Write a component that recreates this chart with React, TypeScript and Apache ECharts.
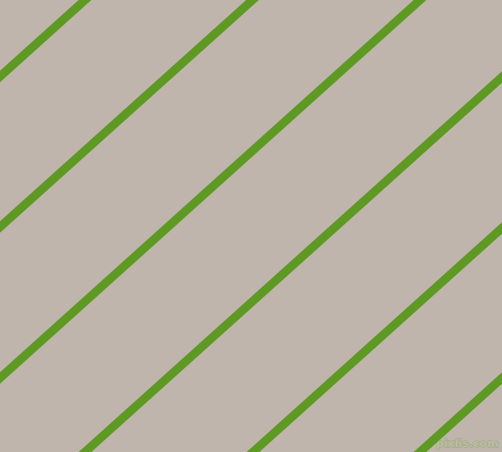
import { useEffect, useRef } from 'react';
import * as echarts from 'echarts';

// each stripe: start and end point, in picture pixels (y grows downward)
const stripeA = [[-10, 85.5], [95, -9]];
const stripeB = [[-10, 236], [262.5, -9]];
const stripeC = [[-10, 387], [430, -9]];
const stripeD = [[75, 461], [512, 68]];
const stripeE = [[243, 461], [512, 219]];
const stripeF = [[410, 461], [512, 369]];
const stripes = [stripeA, stripeB, stripeC, stripeD, stripeE, stripeF];

const watermark = 'pixlis.com';

const App = () => {
  const chartRef = useRef<HTMLDivElement>(null);

  useEffect(() => {
    if (!chartRef.current) return;
    document.body.style.margin = '0';
    const chart = echarts.init(chartRef.current, undefined, { renderer: 'svg' });

    chart.setOption({
      animation: false,
      backgroundColor: '#BFB5AD',
      grid: { left: 0, right: 0, top: 0, bottom: 0 },
      xAxis: { type: 'value', min: 0, max: 502, show: false },
      yAxis: { type: 'value', min: 0, max: 452, inverse: true, show: false },
      series: stripes.map((pts) => ({
        type: 'line',
        data: pts,
        symbol: 'none',
        clip: true,
        lineStyle: { color: '#5E9A23', width: 8.5 }
      })),
      graphic: [
        {
          type: 'text',
          right: 3,
          bottom: 3,
          style: {
            text: watermark,
            fill: '#B9BE9F',
            stroke: '#98A578',
            lineWidth: 0.8,
            font: 'bold 11px "DejaVu Sans"'
          }
        }
      ]
    });

    return () => chart.dispose();
  }, []);

  return <div ref={chartRef} style={{ width: 502, height: 452 }} />;
};

export default App;
